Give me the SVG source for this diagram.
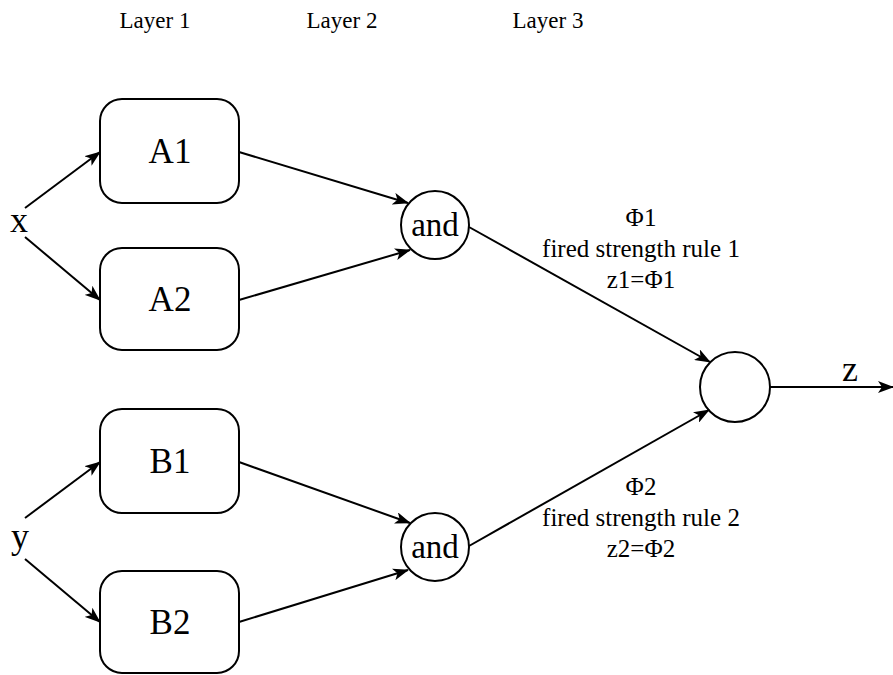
<svg xmlns="http://www.w3.org/2000/svg" width="893" height="675" viewBox="0 0 893 675">
<style>
text{font-family:"Liberation Serif","Times New Roman",serif;fill:#000;text-anchor:middle}
.box{fill:#fff;stroke:#000;stroke-width:2}
.node{fill:#fff;stroke:#000;stroke-width:2}
.edge{stroke:#000;stroke-width:2;fill:none;marker-end:url(#arr)}
.lay{font-size:23px}
.big{font-size:35px}
.xy{font-size:36px}
.and{font-size:33px}
.lab{font-size:25px}
</style>
<defs>
<marker id="arr" viewBox="0 0 16 12" refX="15" refY="6" markerWidth="16" markerHeight="12" markerUnits="userSpaceOnUse" orient="auto">
<path d="M0,0 L16,6 L0,12 L4,6 z" fill="#000"/>
</marker>
</defs>
<g id="layers">
<text class="lay" x="155" y="28">Layer 1</text>
<text class="lay" x="342" y="28">Layer 2</text>
<text class="lay" x="548" y="28">Layer 3</text>
</g>
<g id="x"><text class="xy" x="19" y="232">x</text></g>
<g id="y"><text class="xy" x="20" y="548">y</text></g>
<g id="A1"><rect class="box" x="100" y="99" width="139" height="104" rx="22"/><text class="big" x="170" y="163">A1</text></g>
<g id="A2"><rect class="box" x="100" y="248" width="139" height="102" rx="22"/><text class="big" x="170" y="311">A2</text></g>
<g id="B1"><rect class="box" x="100" y="409" width="139" height="104" rx="22"/><text class="big" x="170" y="473">B1</text></g>
<g id="B2"><rect class="box" x="100" y="571" width="139" height="102" rx="22"/><text class="big" x="170" y="634">B2</text></g>
<g id="and1"><circle class="node" cx="435" cy="225" r="34"/><text class="and" x="435" y="236">and</text></g>
<g id="and2"><circle class="node" cx="435" cy="547" r="34"/><text class="and" x="435" y="558">and</text></g>
<g id="out"><circle class="node" cx="735" cy="387" r="35"/></g>
<g id="connectors">
<path class="edge" d="M25,208 L100,152"/>
<path class="edge" d="M25,237 L100,300"/>
<path class="edge" d="M25,518 L100,462"/>
<path class="edge" d="M25,559 L100,622"/>
<path class="edge" d="M239,152 L408,203"/>
<path class="edge" d="M239,300 L410,250"/>
<path class="edge" d="M239,462 L410,523"/>
<path class="edge" d="M239,622 L408,570"/>
<path class="edge" d="M469,227 L710,362"/>
<path class="edge" d="M469,546 L709,410"/>
<path class="edge" d="M770,387 L893,387"/>
</g>
<g id="labels">
<text class="lab" x="641" y="226">Φ1</text>
<text class="lab" x="641" y="257">fired strength rule 1</text>
<text class="lab" x="641" y="288">z1=Φ1</text>
<text class="lab" x="641" y="495">Φ2</text>
<text class="lab" x="641" y="526">fired strength rule 2</text>
<text class="lab" x="641" y="557">z2=Φ2</text>
<text class="xy" x="850" y="381">z</text>
</g>
</svg>
